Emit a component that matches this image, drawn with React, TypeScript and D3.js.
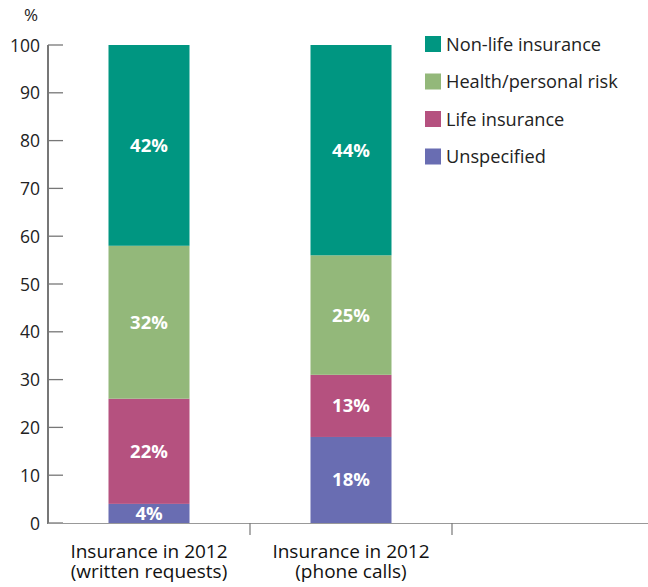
import React from "react";
import * as d3 from "d3";

const categories = ["written", "phone", "empty"];
const categoryLabels: string[][] = [
  ["Insurance in 2012", "(written requests)"],
  ["Insurance in 2012", "(phone calls)"],
  [],
];
const seriesNames = ["Unspecified", "Life insurance", "Health/personal risk", "Non-life insurance"];
const seriesColors = ["#696db2", "#b5517f", "#93b87a", "#009681"];
const unspecified = [4, 18];
const lifeInsurance = [22, 13];
const healthRisk = [32, 25];
const nonLife = [42, 44];
const yTicks = [0, 10, 20, 30, 40, 50, 60, 70, 80, 90, 100];

const W = 648;
const H = 587;
const FONT = "'Open Sans', 'Noto Sans', sans-serif";

export default function App() {
  const x = d3.scaleBand().domain(categories).range([48, 654]).paddingInner(0).paddingOuter(0);
  const y = d3.scaleLinear().domain([0, 100]).range([523, 45]);
  const barW = 81;
  const rows = [unspecified, lifeInsurance, healthRisk, nonLife];
  const table = categories.slice(0, 2).map((c, i) => {
    const o: any = { cat: c };
    seriesNames.forEach((s, k) => (o[s] = rows[k][i]));
    return o;
  });
  const stack = d3.stack<any>().keys(seriesNames)(table);
  const legendOrder = [3, 2, 1, 0];

  return (
    <svg width={W} height={H} style={{ position: "absolute", left: 0, top: 0 }} fontFamily={FONT}>
      <text x={31} y={21} fontSize={17} textAnchor="middle" fill="#222">%</text>
      {yTicks.map((t) => (
        <g key={t}>
          <line x1={48} x2={63} y1={y(t)} y2={y(t)} stroke="#777" strokeWidth={1.3} />
          <text x={40} y={y(t) + 6.5} fontSize={17.5} textAnchor="end" fill="#222">{t}</text>
        </g>
      ))}
      {stack.map((layer, k) =>
        layer.map((d, i) => {
          const cx = (x(categories[i]) as number) + x.bandwidth() / 2;
          const y0 = y(d[0]);
          const y1 = y(d[1]);
          return (
            <g key={k + "-" + i}>
              <rect x={cx - barW / 2} y={y1} width={barW} height={y0 - y1} fill={seriesColors[k]} />
              <text x={cx} y={(y0 + y1) / 2 + 6.5} fontSize={18.5} fontWeight="bold" fill="#fff" textAnchor="middle">
                {rows[k][i]}%
              </text>
            </g>
          );
        })
      )}
      <line x1={48} x2={48} y1={45} y2={524} stroke="#777" strokeWidth={2} />
      <line x1={48} x2={W} y1={523.5} y2={523.5} stroke="#999" strokeWidth={1.2} />
      {categories.slice(1).map((c) => (
        <line key={c} x1={x(c) as number} x2={x(c) as number} y1={523} y2={535} stroke="#777" strokeWidth={1.2} />
      ))}
      {categories.map((c, i) =>
        categoryLabels[i].map((l, j) => (
          <text key={c + j} x={(x(c) as number) + x.bandwidth() / 2} y={558 + j * 20} fontSize={19} textAnchor="middle" fill="#111">
            {l}
          </text>
        ))
      )}
      {legendOrder.map((k, j) => (
        <g key={k}>
          <rect x={425} y={36 + j * 37.5} width={16} height={16} fill={seriesColors[k]} />
          <text x={446} y={50.5 + j * 37.5} fontSize={18.2} fill="#222">{seriesNames[k]}</text>
        </g>
      ))}
    </svg>
  );
}
